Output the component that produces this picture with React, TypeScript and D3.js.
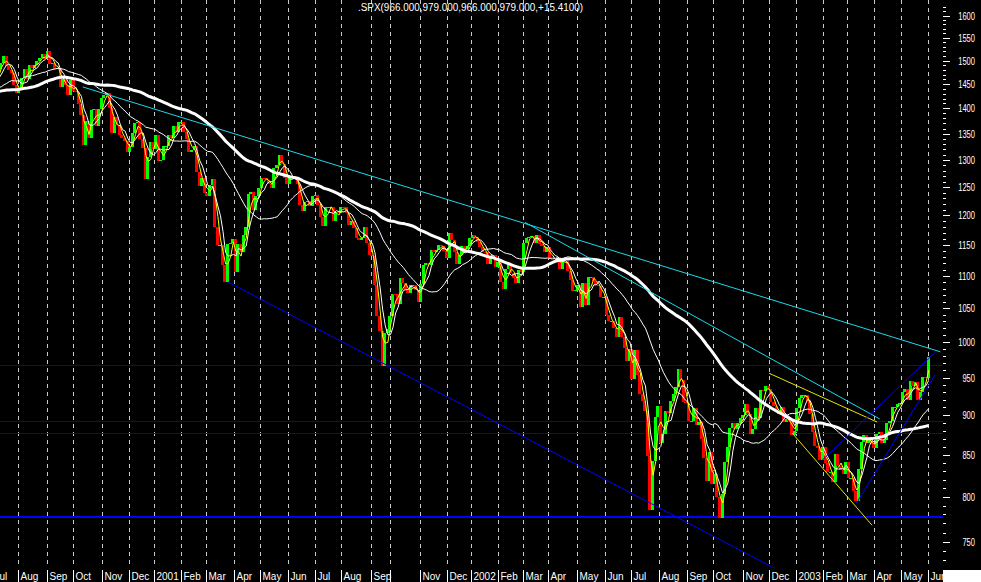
import React from "react";
import * as d3 from "d3";

const W = 981;
const H = 582;
const PLOT_RIGHT = 943;
const PLOT_BOTTOM = 568;

const TITLE = ".SPX(966.000,979.000,966.000,979.000,+15.4100)";

// month labels (bottom axis) and trading days per month, Jul 2000 .. Jun 2003
const MONTH_LABELS = [
  "Jul", "Aug", "Sep", "Oct", "Nov", "Dec",
  "2001", "Feb", "Mar", "Apr", "May", "Jun", "Jul", "Aug", "Sep", "", "Nov", "Dec",
  "2002", "Feb", "Mar", "Apr", "May", "Jun", "Jul", "Aug", "Sep", "Oct", "Nov", "Dec",
  "2003", "Feb", "Mar", "Apr", "May", "Jun",
];
const MONTH_DAYS = [
  20, 23, 20, 22, 21, 20,
  21, 19, 22, 20, 22, 21, 20, 23, 15, 23, 21, 19,
  21, 19, 20, 22, 22, 20, 22, 22, 20, 23, 20, 21,
  21, 19, 21, 21, 21, 2,
];
const FIRST_MONTH_START = -20; // trading-day index of Jul 3 2000 (Aug 1 2000 = 0)
const FIRST_BAR_INDEX = -143; // Jan 6 2000
const BAR_STEP = 2; // one value every two trading days

// closes (every second trading day)
const CLOSE_EARLY_2000 = [
  // Jan
  1403, 1457, 1432, 1465, 1456, 1441, 1410, 1398, 1394,
  // Feb
  1409, 1424, 1441, 1416, 1389, 1388, 1346, 1360, 1333, 1366,
  // Mar (to 22nd)
  1381, 1391, 1366, 1395, 1359, 1458, 1457, 1500,
];
const CLOSE_2000 = [
  // Mar
  1527, 1507, 1488,
  // Apr
  1505, 1487, 1516, 1497, 1440, 1401, 1427, 1429, 1461, 1452,
  // May
  1446, 1409, 1424, 1383, 1421, 1466, 1437, 1400, 1399, 1378, 1421,
  // Jun
  1477, 1457, 1461, 1446, 1470, 1464, 1486, 1452, 1455, 1454, 1455,
  // Jul
  1446, 1478, 1481, 1495, 1510, 1489, 1480, 1474, 1449, 1431,
  // Aug
  1438, 1462, 1482, 1460, 1491, 1484, 1491, 1499, 1505, 1514, 1503,
  // Sep
  1521, 1492, 1495, 1481, 1484, 1444, 1460, 1449, 1427, 1458,
  // Oct
  1436, 1434, 1408, 1387, 1329, 1374, 1342, 1396, 1398, 1364, 1398,
  // Nov
  1421, 1427, 1431, 1400, 1351, 1383, 1367, 1347, 1341, 1336, 1315,
  // Dec
  1324, 1351, 1370, 1372, 1340, 1322, 1264, 1305, 1334, 1320,
];
const CLOSE_2001 = [
  1347, 1298, 1300, 1326, 1326, 1347, 1342, 1365, 1354, 1373,
  1373, 1354, 1340, 1315, 1319, 1326, 1278, 1252, 1267, 1240,
  1234, 1253, 1264, 1180, 1150, 1150, 1117, 1090, 1152, 1153, 1160,
  1106, 1151, 1138, 1166, 1180, 1238, 1242, 1209, 1234, 1249,
  1267, 1266, 1262, 1255, 1248, 1284, 1291, 1309, 1293, 1267, 1256,
  1267, 1270, 1264, 1255, 1219, 1208, 1223, 1226, 1217, 1234,
  1236, 1219, 1198, 1181, 1215, 1215, 1215, 1191, 1206, 1205,
  1215, 1214, 1204, 1184, 1191, 1178, 1162, 1158, 1162, 1180, 1154, 1134,
  1132, 1085, 1038, 1016, 966, 1013, 1019,
  1038, 1072, 1071, 1057, 1097, 1089, 1077, 1073, 1085, 1085, 1078, 1060,
  1087, 1118, 1120, 1118, 1142, 1138, 1142, 1150, 1149, 1140,
  1129, 1170, 1158, 1139, 1119, 1134, 1149, 1144, 1149, 1161,
];
const CLOSE_2002 = [
  1166, 1164, 1155, 1146, 1139, 1138, 1119, 1132, 1134, 1114,
  1122, 1090, 1080, 1111, 1118, 1104, 1097, 1089, 1109, 1106,
  1154, 1162, 1164, 1165, 1153, 1166, 1151, 1149, 1138, 1147,
  1127, 1126, 1125, 1130, 1111, 1129, 1124, 1108, 1093, 1076, 1077,
  1086, 1052, 1088, 1054, 1098, 1098, 1092, 1086, 1084, 1067, 1067,
  1040, 1030, 1030, 1020, 1007, 1037, 1007, 992, 973, 990,
  948, 989, 953, 928, 918, 906, 848, 785, 843, 898, 912,
  864, 876, 905, 903, 919, 928, 937, 962, 947, 917, 916,
  893, 893, 909, 887, 891, 869, 846, 819, 854, 815,
  827, 800, 776, 803, 841, 860, 884, 890, 882, 890, 896,
  900, 915, 902, 876, 882, 909, 896, 933, 932, 938,
  934, 917, 912, 904, 901, 910, 891, 895, 892, 875, 880,
];
const CLOSE_2003 = [
  909, 922, 927, 927, 918, 901, 878, 861, 858, 844,
  860, 840, 829, 829, 817, 851, 837, 832, 827, 841,
  822, 822, 807, 795, 833, 866, 875, 864, 869, 863,
  858, 876, 879, 865, 868, 890, 893, 911, 911, 914, 916,
  930, 934, 920, 945, 939, 944, 920, 931, 951, 950,
  979,
];

// moving average windows (in bars of two trading days: ~5, 10, 50, 130 days)
const MA_PERIODS = [3, 5, 25, 65];

// horizontal support/resistance levels
const H_LEVELS = [967, 892, 877, 777];

// trend lines: [startIndex, startValue, endIndex, endValue]
const CYAN_LINES = [
  [50, 1444, 716, 986],
  [393.5, 1188, 669, 895],
];
const YELLOW_LINES = [
  [583, 956, 667, 891],
  [601, 877, 663, 768],
];
const BLUE_LINES = [
  [163, 1090, 600, 713],
  [624, 843, 712, 985],
  [651, 793, 712, 954],
];

const AXIS_MIN = 730;
const AXIS_MAX = 1620;

function sma(vals: number[], n: number): (number | null)[] {
  const out: (number | null)[] = [];
  let sum = 0;
  for (let k = 0; k < vals.length; k++) {
    sum += vals[k];
    if (k >= n) sum -= vals[k - n];
    out.push(k >= n - 1 ? sum / n : null);
  }
  return out;
}

export default function App() {
  const closes = [
    ...CLOSE_EARLY_2000,
    ...CLOSE_2000,
    ...CLOSE_2001,
    ...CLOSE_2002,
    ...CLOSE_2003,
  ];
  const idx = (k: number) => FIRST_BAR_INDEX + k * BAR_STEP;

  const x = d3.scaleLinear().domain([0, 707]).range([18.3, 928.7]);
  const y = d3.scaleLog().domain([750, 1600]).range([541.7, 15.7]);

  // month boundaries
  const monthStarts: number[] = [];
  let acc = FIRST_MONTH_START;
  MONTH_DAYS.forEach((d) => {
    monthStarts.push(acc);
    acc += d;
  });
  const gx = (i: number) => Math.floor(x(i)) + 0.5;

  const bars = closes.slice(1).map((c, k) => {
    const prev = closes[k];
    const i = idx(k + 1);
    const top = y(Math.max(prev, c));
    const bot = y(Math.min(prev, c));
    return {
      x: Math.round(x(i - 0.5) - 1.5),
      y: Math.round(top),
      h: Math.max(1, Math.round(bot) - Math.round(top)),
      up: c >= prev,
    };
  });

  const maLine = d3
    .line<[number, number | null]>()
    .defined((d) => d[1] != null)
    .x((d) => x(d[0]))
    .y((d) => y(d[1] as number));

  const mas = MA_PERIODS.map((p) => {
    const m = sma(closes, p);
    return maLine(m.map((v, k) => [idx(k), v] as [number, number | null])) || "";
  });

  const ticks = d3.range(AXIS_MIN, AXIS_MAX + 1, 10);

  const seg = (l: number[]) => ({
    x1: x(l[0]),
    y1: y(l[1]),
    x2: x(l[2]),
    y2: y(l[3]),
  });

  const font = "'Liberation Sans', Arial, sans-serif";

  return (
    <svg
      width={W}
      height={H}
      style={{ position: "absolute", left: 0, top: 0, display: "block" }}
    >
      <defs>
        <clipPath id="plotClip">
          <rect x={0} y={0} width={PLOT_RIGHT} height={PLOT_BOTTOM} />
        </clipPath>
      </defs>
      <rect x={0} y={0} width={W} height={H} fill="#000" />

      {/* vertical month gridlines */}
      <g>
        {monthStarts.map((m, j) => (
          <line
            key={"g" + j}
            x1={gx(m)}
            x2={gx(m)}
            y1={0}
            y2={PLOT_BOTTOM}
            stroke="#c8c8c8"
            strokeDasharray="4,4"
            shapeRendering="crispEdges"
          />
        ))}
      </g>

      <g clipPath="url(#plotClip)">
        {/* horizontal levels */}
        {H_LEVELS.map((v, j) => (
          <line
            key={"h" + j}
            x1={0}
            x2={PLOT_RIGHT}
            y1={Math.round(y(v)) + (j === 3 ? 0 : 0.5)}
            y2={Math.round(y(v)) + (j === 3 ? 0 : 0.5)}
            stroke={j === 3 ? "#0000ff" : "#0000e6"}
            strokeWidth={j === 3 ? 2 : 1}
            shapeRendering="crispEdges"
          />
        ))}

        {/* price bars */}
        {bars.map((b, j) => (
          <rect
            key={"b" + j}
            x={b.x}
            y={b.y}
            width={3}
            height={b.h}
            fill={b.up ? "#00ff00" : "#ff0000"}
            shapeRendering="crispEdges"
          />
        ))}

        {/* moving averages */}
        <path d={mas[0]} fill="none" stroke="#ffff00" strokeWidth={1} />
        <path d={mas[1]} fill="none" stroke="#ffffff" strokeWidth={1} />
        <path d={mas[2]} fill="none" stroke="#ffffff" strokeWidth={1} />
        <path d={mas[3]} fill="none" stroke="#ffffff" strokeWidth={3} />

        {/* trend lines */}
        {CYAN_LINES.map((l, j) => (
          <line key={"c" + j} {...seg(l)} stroke="#1ad8ec" strokeWidth={1} />
        ))}
        {YELLOW_LINES.map((l, j) => (
          <line key={"y" + j} {...seg(l)} stroke="#e6e600" strokeWidth={1} />
        ))}
        {BLUE_LINES.map((l, j) => (
          <line key={"bl" + j} {...seg(l)} stroke="#0000ff" strokeWidth={1} />
        ))}
      </g>

      {/* title */}
      <text
        x={358}
        y={11}
        fill="#fff"
        fontFamily={font}
        fontSize={10}
        textLength={225}
        lengthAdjust="spacingAndGlyphs"
      >
        {TITLE}
      </text>

      {/* right axis */}
      <g>
        {ticks.map((v) => {
          const major = v % 50 === 0;
          const yy = Math.round(y(v)) + 0.5;
          return (
            <g key={"t" + v}>
              <line
                x1={943}
                x2={major ? 950 : 946}
                y1={yy}
                y2={yy}
                stroke="#fff"
                shapeRendering="crispEdges"
              />
              {major && v >= 750 && v <= 1600 ? (
                <text
                  x={975}
                  y={yy + 3.5}
                  fill="#fff"
                  fontFamily={font}
                  fontSize={10}
                  textAnchor="end"
                  textLength={String(v).length * 4.2}
                  lengthAdjust="spacingAndGlyphs"
                >
                  {v}
                </text>
              ) : null}
            </g>
          );
        })}
      </g>

      {/* bottom axis labels */}
      <g>
        {monthStarts.map((m, j) => (
          <g key={"l" + j}>
            <line
              x1={gx(m)}
              x2={gx(m)}
              y1={570}
              y2={582}
              stroke="#fff"
              shapeRendering="crispEdges"
            />
            <text
              x={gx(m) + 2}
              y={580}
              fill="#fff"
              fontFamily={font}
              fontSize={10}
            >
              {MONTH_LABELS[j]}
            </text>
          </g>
        ))}
      </g>
      <rect x={943} y={570} width={W - 943} height={12} fill="#fff" />
    </svg>
  );
}
